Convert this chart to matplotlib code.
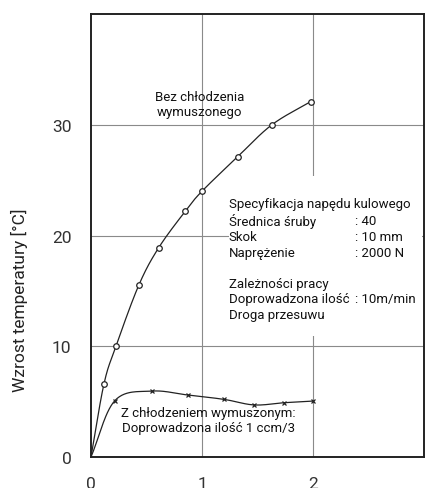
import numpy as np
import matplotlib
matplotlib.use("Agg")
import matplotlib.pyplot as plt
from matplotlib.patches import Rectangle

# Data
x_no_cool = [0.117, 0.225, 0.43, 0.61, 0.85, 1.0, 1.32, 1.63, 1.98]
y_no_cool = [6.6, 10.0, 15.5, 18.9, 22.2, 24.0, 27.1, 30.0, 32.1]
x_cool = [0.216, 0.55, 0.87, 1.2, 1.47, 1.74, 2.0]
y_cool = [5.1, 5.95, 5.6, 5.2, 4.7, 4.9, 5.05]
x_ticks = [0, 1, 2]
y_ticks = [0, 10, 20, 30]

spec_left = [
    "Specyfikacja napędu kulowego",
    "Średnica śruby",
    "Skok",
    "Naprężenie",
    "Zależności pracy",
    "Doprowadzona ilość",
    "Droga przesuwu",
]
spec_right = ["", ": 40", ": 10 mm", ": 2000 N", "", ": 10m/min", ""]
spec_y = [22.85, 21.4, 19.95, 18.5, 15.7, 14.3, 12.85]


def catmull(xs, ys, n=30):
    P = np.column_stack([xs, ys]).astype(float)
    P = np.vstack([2 * P[0] - P[1], P, 2 * P[-1] - P[-2]])
    out = []
    t = np.linspace(0, 1, n)[:, None]
    for i in range(1, len(P) - 2):
        p0, p1, p2, p3 = P[i - 1], P[i], P[i + 1], P[i + 2]
        seg = 0.5 * ((2 * p1) + (-p0 + p2) * t + (2 * p0 - 5 * p1 + 4 * p2 - p3) * t ** 2
                     + (-p0 + 3 * p1 - 3 * p2 + p3) * t ** 3)
        out.append(seg)
    S = np.vstack(out)
    return S[:, 0], S[:, 1]


fig = plt.figure(figsize=(4.31, 4.89), dpi=100)
ax = fig.add_axes([0.2111, 0.0634, 0.7727, 0.9059])
ax.set_xlim(0, 3)
ax.set_ylim(0, 40)

for v in [1, 2]:
    ax.axvline(v, color="#8a8a8a", lw=0.8, zorder=0)
for v in [10, 20, 30]:
    ax.axhline(v, color="#8a8a8a", lw=0.8, zorder=0)

# white background behind the specification block
ax.add_patch(Rectangle((1.24, 10.9), 1.74, 14.5, facecolor="white",
                       edgecolor="none", zorder=1))

cx, cy = catmull([0] + x_no_cool, [0] + y_no_cool)
ax.plot(cx, cy, color="#222222", lw=0.9, zorder=2)
ax.plot(x_no_cool, y_no_cool, linestyle="none", marker="o", ms=4,
        mfc="white", mec="#222222", mew=0.9, zorder=3)

kx, ky = catmull([0] + x_cool, [0] + y_cool)
ax.plot(kx, ky, color="#222222", lw=0.9, zorder=2)
ax.plot(x_cool, y_cool, linestyle="none", marker="x", ms=3.5,
        mec="#222222", mew=0.9, zorder=3)

for s in ax.spines.values():
    s.set_linewidth(1.4)
    s.set_color("#222222")

ax.set_xticks(x_ticks)
ax.set_yticks(y_ticks)
ax.tick_params(length=0, labelsize=12.5, colors="#333333")
ax.tick_params(axis="y", pad=14)
ax.tick_params(axis="x", pad=14)
for lab in ax.get_xticklabels() + ax.get_yticklabels():
    lab.set_family("Roboto")

ax.set_ylabel("Wzrost temperatury [°C]", fontsize=12.5, family="Roboto",
              color="#222222")
ax.yaxis.set_label_coords(-0.19, 0.357)

tfont = dict(family="Roboto", fontsize=9.5, color="#111111")
ax.text(0.98, 31.9, "Bez chłodzenia\nwymuszonego", ha="center", va="center",
        linespacing=1.2, zorder=4, **tfont)

for lt, rt, yy in zip(spec_left, spec_right, spec_y):
    ax.text(1.24, yy, lt, ha="left", va="center", zorder=4, **tfont)
    if rt:
        ax.text(2.38, yy, rt, ha="left", va="center", zorder=4, **tfont)

ax.text(1.06, 3.3, "Z chłodzeniem wymuszonym:\nDoprowadzona ilość 1 ccm/3",
        ha="center", va="center", linespacing=1.2, zorder=4, **tfont)

fig.savefig("out.png", dpi=100)
